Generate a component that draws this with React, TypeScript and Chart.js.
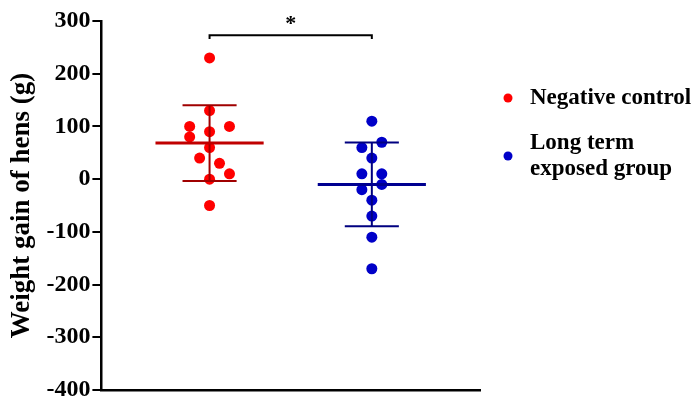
import React, { useEffect, useRef } from "react";
import { Chart, registerables } from "chart.js";

Chart.register(...registerables);

// ---- data ----
const groupNames = ["Negative control", "Long term exposed group"];
const legendLines = [["Negative control"], ["Long term", "exposed group"]];
const groupCenters = [1, 2.5];
const negativeControl = [230, 130, 100, 100, 90, 80, 60, 40, 30, 10, 0, -50];
const negativeControlCols = [0, 0, -2, 2, 0, -2, 0, -1, 1, 2, 0, 0];
const longTerm = [110, 70, 60, 40, 10, 10, -10, -20, -40, -70, -110, -170];
const longTermCols = [0, 1, -1, 0, -1, 1, 1, -1, 0, 0, 0, 0];
const yTicks = [-400, -300, -200, -100, 0, 100, 200, 300];
const bracketLevels = [266, 273];
const asteriskLevel = 299;
const significance = "*";
const yTitle = "Weight gain of hens (g)";

const pointColors = ["#ff0000", "#0000c8"];
const meanColors = ["#c00000", "#000090"];
const sdColors = ["#a00000", "#000080"];

const FONT = "'Times New Roman', 'Liberation Serif', serif";
const JITTER = 0.092;

function meanSd(v: number[]) {
  const m = v.reduce((a, b) => a + b, 0) / v.length;
  const s = Math.sqrt(v.reduce((a, b) => a + (b - m) ** 2, 0) / (v.length - 1));
  return [m, s];
}

export default function App() {
  const ref = useRef<HTMLCanvasElement | null>(null);

  useEffect(() => {
    if (!ref.current) return;
    const groups = [
      { vals: negativeControl, cols: negativeControlCols },
      { vals: longTerm, cols: longTermCols },
    ];
    const datasets: any[] = [];
    groups.forEach((g, i) => {
      const c = groupCenters[i];
      const [m, s] = meanSd(g.vals);
      datasets.push({
        label: groupNames[i] + " mean",
        data: [
          { x: c - 0.5, y: m },
          { x: c + 0.5, y: m },
        ],
        showLine: true,
        borderColor: meanColors[i],
        borderWidth: 3,
        pointRadius: 0,
        order: 0,
      });
      datasets.push({
        label: groupNames[i] + " sd",
        data: [
          { x: c - 0.25, y: m + s },
          { x: c + 0.25, y: m + s },
          { x: c, y: null },
          { x: c, y: m + s },
          { x: c, y: m - s },
          { x: c, y: null },
          { x: c - 0.25, y: m - s },
          { x: c + 0.25, y: m - s },
        ],
        showLine: true,
        spanGaps: false,
        borderColor: sdColors[i],
        borderWidth: 2,
        pointRadius: 0,
        order: 0,
      });
      datasets.push({
        label: groupNames[i],
        data: g.vals.map((v, k) => ({ x: c + g.cols[k] * JITTER, y: v })),
        backgroundColor: pointColors[i],
        borderWidth: 0,
        pointRadius: 5.5,
        order: 1,
      });
    });
    datasets.push({
      label: "bracket",
      data: [
        { x: groupCenters[0], y: bracketLevels[0] },
        { x: groupCenters[0], y: bracketLevels[1] },
        { x: groupCenters[1], y: bracketLevels[1] },
        { x: groupCenters[1], y: bracketLevels[0] },
      ],
      showLine: true,
      borderColor: "#000",
      borderWidth: 2,
      pointRadius: 0,
      order: 0,
    });

    const extras = {
      id: "extras",
      afterDraw(chart: any) {
        const ctx = chart.ctx;
        const xs = chart.scales.x;
        const ys = chart.scales.y;
        const area = chart.chartArea;
        ctx.save();
        // asterisk
        ctx.fillStyle = "#000";
        ctx.font = `bold 22px ${FONT}`;
        ctx.textAlign = "center";
        ctx.textBaseline = "middle";
        ctx.fillText(
          significance,
          xs.getPixelForValue((groupCenters[0] + groupCenters[1]) / 2),
          ys.getPixelForValue(asteriskLevel) + 3
        );
        // legend
        const dotX = area.right + 28;
        const textX = area.right + 50;
        const lineH = 26;
        let y = area.top + 77;
        ctx.textAlign = "left";
        ctx.font = `bold 23px ${FONT}`;
        legendLines.forEach((lines, i) => {
          const h = (lines.length - 1) * lineH;
          const cy = y + h / 2;
          ctx.fillStyle = pointColors[i];
          ctx.beginPath();
          ctx.arc(dotX, cy, 4.5, 0, Math.PI * 2);
          ctx.fill();
          ctx.fillStyle = "#000";
          lines.forEach((t, j) => ctx.fillText(t, textX, y + j * lineH));
          y += h + 45;
        });
        ctx.restore();
      },
    };

    const chart = new Chart(ref.current, {
      type: "scatter",
      data: { datasets },
      options: {
        animation: false,
        responsive: false,
        devicePixelRatio: 1,
        layout: { padding: { left: 2, right: 218, top: 21, bottom: 8 } },
        plugins: { legend: { display: false }, tooltip: { enabled: false } },
        scales: {
          x: {
            type: "linear",
            min: 0,
            max: 3.5,
            ticks: { display: false },
            grid: { drawOnChartArea: false, drawTicks: false },
            border: { color: "#000", width: 2.5 },
          },
          y: {
            type: "linear",
            min: -400,
            max: 300,
            afterBuildTicks: (scale: any) => {
              scale.ticks = yTicks.map((v) => ({ value: v }));
            },
            afterFit: (scale: any) => {
              scale.paddingTop = 0;
              scale.paddingBottom = 0;
            },
            ticks: {
              color: "#000",
              font: { family: FONT, size: 24, weight: "bold" },
              padding: 2,
            },
            grid: {
              drawOnChartArea: false,
              drawTicks: true,
              tickLength: 9,
              color: "#000",
              lineWidth: 2,
            },
            border: { color: "#000", width: 2.5 },
            title: {
              display: true,
              text: yTitle,
              color: "#000",
              font: { family: FONT, size: 27, weight: "bold" },
              padding: { top: 4, bottom: 6 },
            },
          },
        },
      },
      plugins: [extras],
    } as any);
    return () => chart.destroy();
  }, []);

  return (
    <div style={{ position: "fixed", left: 0, top: 0, width: 698, height: 398, background: "#fff" }}>
      <canvas ref={ref} width={698} height={398} />
    </div>
  );
}
